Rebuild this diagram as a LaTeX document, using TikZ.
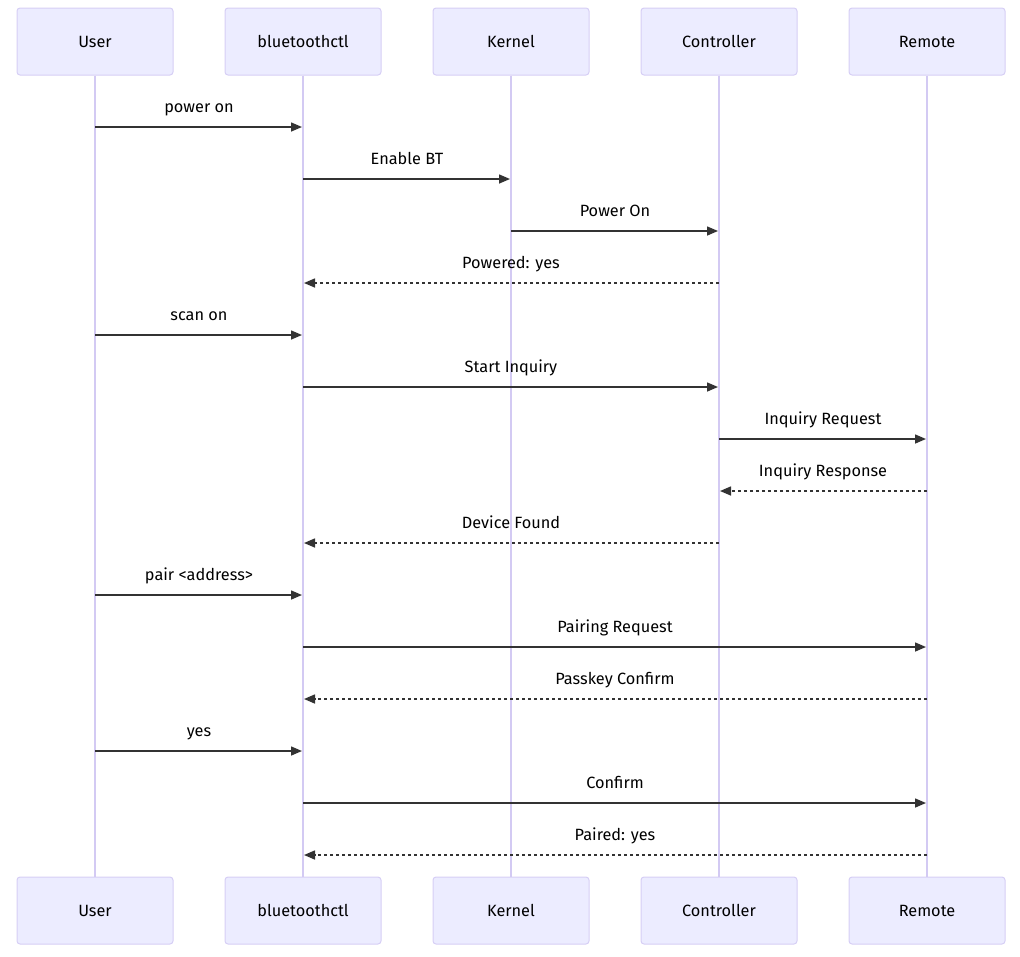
\documentclass[tikz,border=0pt]{standalone}
\usepackage{fontspec}
\setmainfont{Fira Sans}
\usetikzlibrary{arrows.meta}
\definecolor{actfill}{HTML}{ECECFF}
\definecolor{actdraw}{HTML}{D6CEF5}
\definecolor{life}{HTML}{D3CAF3}
\definecolor{ink}{HTML}{333333}
\begin{document}
\begin{tikzpicture}[x=1pt,y=-1pt,
  actor/.style={draw=actdraw, fill=actfill, rounded corners=3pt, minimum width=156pt, minimum height=67pt, text height=12pt, text depth=0pt, font=\fontsize{16.3}{19}\selectfont, text=black, line width=1pt},
  lifeline/.style={draw=life, line width=1.3pt},
  msg/.style={draw=ink, line width=1.5pt, -{Triangle[length=11pt,width=9pt]}, shorten >=1pt},
  reply/.style={msg, dash pattern=on 3pt off 3pt},
  lbl/.style={font=\fontsize{16.3}{19}\selectfont, text=black, inner sep=0pt, anchor=base, yshift=15pt}
]
\useasboundingbox (0,0) rectangle (1020,956);
% top actors
\node[actor] (U)  at (95,41.5)  {User};
\node[actor] (B)  at (303,41.5) {bluetoothctl};
\node[actor] (K)  at (511,41.5) {Kernel};
\node[actor] (C)  at (719,41.5) {Controller};
\node[actor] (R)  at (927,41.5) {Remote};
% bottom actors
\node[actor] (U2) at (95,910.5)  {User};
\node[actor] (B2) at (303,910.5) {bluetoothctl};
\node[actor] (K2) at (511,910.5) {Kernel};
\node[actor] (C2) at (719,910.5) {Controller};
\node[actor] (R2) at (927,910.5) {Remote};
% lifelines
\draw[lifeline] (U) -- (U2);
\draw[lifeline] (B) -- (B2);
\draw[lifeline] (K) -- (K2);
\draw[lifeline] (C) -- (C2);
\draw[lifeline] (R) -- (R2);
% messages
\draw[msg]   (U |- 0,127) -- (B |- 0,127) node[lbl, midway] {power on};
\draw[msg]   (B |- 0,179) -- (K |- 0,179) node[lbl, midway] {Enable BT};
\draw[msg]   (K |- 0,231) -- (C |- 0,231) node[lbl, midway] {Power On};
\draw[reply] (C |- 0,283) -- (B |- 0,283) node[lbl, midway] {Powered: yes};
\draw[msg]   (U |- 0,335) -- (B |- 0,335) node[lbl, midway] {scan on};
\draw[msg]   (B |- 0,387) -- (C |- 0,387) node[lbl, midway] {Start Inquiry};
\draw[msg]   (C |- 0,439) -- (R |- 0,439) node[lbl, midway] {Inquiry Request};
\draw[reply] (R |- 0,491) -- (C |- 0,491) node[lbl, midway] {Inquiry Response};
\draw[reply] (C |- 0,543) -- (B |- 0,543) node[lbl, midway] {Device Found};
\draw[msg]   (U |- 0,595) -- (B |- 0,595) node[lbl, midway] {pair <address>};
\draw[msg]   (B |- 0,647) -- (R |- 0,647) node[lbl, midway] {Pairing Request};
\draw[reply] (R |- 0,699) -- (B |- 0,699) node[lbl, midway] {Passkey Confirm};
\draw[msg]   (U |- 0,751) -- (B |- 0,751) node[lbl, midway] {yes};
\draw[msg]   (B |- 0,803) -- (R |- 0,803) node[lbl, midway] {Confirm};
\draw[reply] (R |- 0,855) -- (B |- 0,855) node[lbl, midway] {Paired: yes};
\end{tikzpicture}
\end{document}
